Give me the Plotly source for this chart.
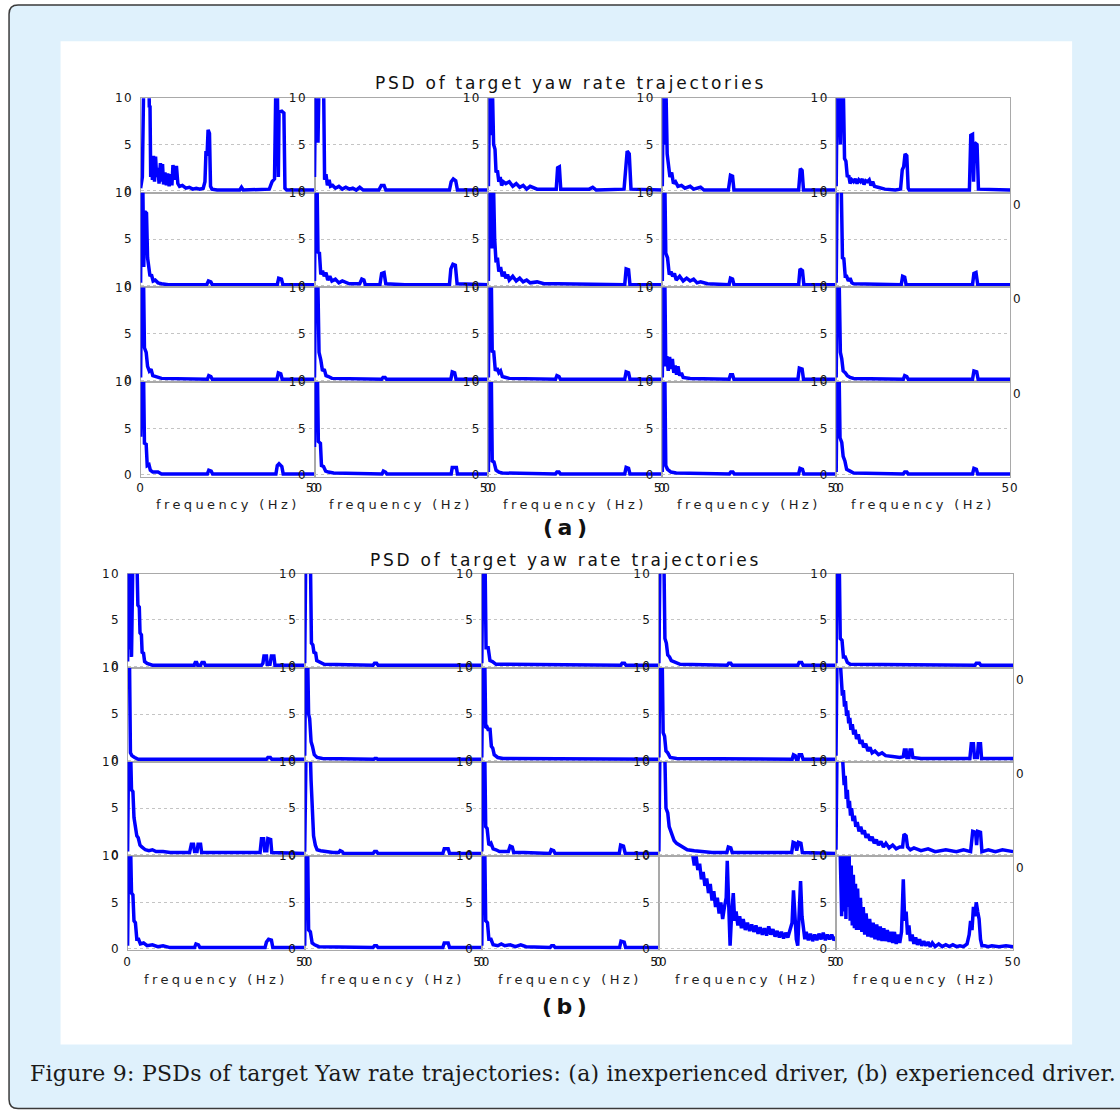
import plotly.graph_objects as go

# ---------------- data: (frequency Hz, PSD) pairs ----------------
# (a) inexperienced driver, rows 1..4, columns 1..5
A11 = [(0,0.3),(0.5,1.5),(0.9,12),(1.4,12),(1.9,12),(2.4,12),(2.5,9),(2.7,9.2),(2.9,1.5),(3.1,3.8),(3.4,1.2),(3.7,3.8),(4.0,1.0),(4.3,3.7),(4.6,1.5),(5.0,2.5),(5.3,0.8),(5.7,3.0),(6.0,1.0),(6.3,2.9),(6.6,0.7),(7.0,2.0),(7.4,0.6),(7.8,1.9),(8.2,0.5),(8.6,1.8),(9.0,0.6),(9.3,2.8),(9.8,1.2),(10.3,2.7),(10.7,0.8),(11.2,0.5),(12,0.6),(13,0.3),(14,0.4),(15,0.2),(16,0.3),(17,0.2),(18,0.3),(18.5,1.0),(18.8,4.3),(19.1,3.8),(19.4,6.6),(19.8,6.2),(20.1,0.5),(20.5,0.2),(22,0.1),(28.5,0.1),(29,0.4),(29.5,0.1),(37,0.2),(37.8,1.0),(38.5,1.3),(38.9,12),(39.3,12),(39.6,1.5),(39.8,8.5),(40.6,8.6),(41.2,8.4),(41.5,0.3),(42,0.1),(50,0.1)]
A12 = [(0,1.5),(0.3,12),(0.8,12),(1.0,5.2),(1.3,12),(2.0,12),(2.6,12),(2.9,1.2),(3.3,1.8),(3.7,0.6),(4.2,1.2),(4.6,0.5),(5.2,0.6),(6,0.3),(7,0.5),(8,0.2),(9,0.4),(10,0.2),(11,0.3),(12,0.1),(13,0.4),(14,0.1),(18.5,0.1),(19.2,0.6),(20,0.6),(20.5,0.1),(38.8,0.1),(39.3,1.0),(39.9,1.3),(40.6,1.1),(41.1,0.1),(50,0.1)]
A13 = [(0,0.5),(0.4,12),(0.8,6),(1.1,12),(1.5,5),(1.9,4.5),(2.2,2),(2.6,2.2),(3.0,1.0),(3.4,1.5),(3.8,0.6),(4.3,1.0),(5,0.8),(6,1.0),(7,0.5),(8,0.8),(9,0.4),(10,0.6),(11,0.2),(12,0.5),(14,0.2),(16,0.2),(19.5,0.2),(19.9,2.5),(20.4,2.6),(20.8,0.2),(29,0.2),(30,0.4),(31,0.1),(39,0.2),(39.5,2.0),(39.9,4.3),(40.5,4.0),(41,0.2),(50,0.1)]
A14 = [(0,0.5),(0.3,12),(0.7,5),(1.0,12),(1.4,4),(1.8,3),(2.2,1.5),(2.7,2.0),(3.2,0.8),(3.8,1.0),(4.5,0.5),(5.5,0.6),(6.5,0.3),(8,0.5),(9,0.2),(11,0.4),(12,0.1),(19,0.1),(19.6,1.7),(20.2,1.6),(20.6,0.1),(39.2,0.1),(39.7,2.4),(40.2,2.2),(40.6,0.1),(50,0.1)]
A15 = [(0,0.5),(0.3,12),(0.8,12),(1.2,5),(1.5,12),(2.0,12),(2.4,3.5),(2.8,3.2),(3.2,1.5),(3.6,1.7),(4.0,0.8),(4.5,1.2),(5.0,1.0),(5.5,1.3),(6.0,0.8),(6.5,1.2),(7,1.0),(7.5,1.3),(8,0.7),(8.5,1.1),(9,1.0),(9.5,1.2),(10,0.6),(10.5,1.0),(11,0.5),(12,0.4),(13,0.3),(14,0.2),(17,0.1),(18.5,0.2),(19,2.3),(19.4,2.6),(19.8,4.0),(20.3,3.8),(20.7,0.3),(21,0.1),(38.3,0.1),(38.7,6.0),(39.2,6.1),(39.5,1.0),(39.8,5.2),(40.5,5.0),(40.9,0.2),(50,0.1)]
A21 = [(0,0.3),(0.2,12),(0.6,12),(0.9,2),(1.2,8),(1.7,7.8),(2.0,3),(2.3,2.0),(2.7,1.0),(3.1,1.2),(3.6,0.5),(4.2,0.6),(5,0.3),(6,0.2),(8,0.1),(19,0.1),(19.5,0.5),(20.2,0.4),(20.6,0.1),(39.3,0.1),(39.7,0.8),(40.5,0.7),(40.9,0.1),(50,0.1)]
A22 = [(0,0.5),(0.3,12),(0.7,12),(1.0,3.5),(1.4,3.6),(1.8,1.2),(2.3,1.6),(2.8,1.0),(3.3,1.4),(3.8,0.6),(4.4,1.0),(5,0.5),(6,0.7),(7,0.3),(8,0.5),(9,0.3),(10,0.2),(13,0.2),(13.6,0.7),(14.2,0.6),(14.6,0.1),(18.8,0.1),(19.3,1.3),(20.0,1.4),(20.5,0.2),(26,0.1),(38.8,0.1),(39.2,1.8),(39.8,2.3),(40.5,2.2),(41.0,0.2),(50,0.1)]
A23 = [(0,0.5),(0.3,12),(0.8,12),(1.1,4),(1.4,12),(1.8,5),(2.2,2.5),(2.6,3.0),(3.0,1.5),(3.5,2.0),(4.0,1.0),(4.5,1.5),(5,0.8),(5.5,1.2),(6,0.6),(7,1.0),(8,0.5),(9,0.8),(10,0.4),(11,0.6),(12,0.3),(14,0.4),(16,0.2),(20,0.2),(39.2,0.1),(39.6,1.8),(40.3,1.7),(40.7,0.1),(50,0.1)]
A24 = [(0,0.5),(0.3,12),(0.7,12),(1.0,3.5),(1.5,3.0),(2.0,1.2),(2.5,1.5),(3,1.0),(3.5,1.3),(4,0.6),(5,1.0),(6,0.5),(7,0.8),(8,0.5),(9,0.7),(10,0.3),(11,0.4),(13,0.2),(19.2,0.1),(19.6,0.8),(20.2,0.7),(20.6,0.1),(39.2,0.1),(39.6,1.8),(40.3,1.6),(40.7,0.1),(50,0.1)]
A25 = [(0,0.3),(0.3,12),(0.8,12),(1.4,12),(1.8,3),(2.2,2.9),(2.6,1.0),(3.0,1.0),(3.5,0.5),(4,0.8),(4.5,0.3),(5,0.2),(18.7,0.1),(19.1,1.0),(19.7,0.9),(20.1,0.1),(39.2,0.1),(39.6,1.3),(40.2,1.4),(40.7,0.1),(50,0.1)]
A31 = [(0,0.3),(0.3,12),(0.8,12),(1.1,3.5),(1.6,3.0),(2.0,1.5),(2.5,1.0),(3,1.2),(3.5,0.5),(4.5,0.4),(6,0.2),(19.2,0.1),(19.6,0.5),(20.2,0.4),(20.6,0.1),(39.2,0.1),(39.6,0.8),(40.3,0.7),(40.7,0.1),(50,0.1)]
A32 = [(0,0.3),(0.3,12),(0.9,12),(1.3,3),(1.8,2.2),(2.3,1.0),(2.8,1.2),(3.3,0.5),(4,0.4),(5,0.2),(19.3,0.1),(19.7,0.3),(20.3,0.3),(20.7,0.1),(39.2,0.1),(39.6,0.9),(40.3,0.8),(40.7,0.1),(50,0.1)]
A33 = [(0,0.3),(0.3,12),(0.8,12),(1.1,3),(1.5,3.2),(2.0,1.0),(2.5,1.3),(3,0.8),(3.5,1.0),(4,0.4),(5,0.3),(6,0.2),(19.3,0.1),(19.7,0.5),(20.3,0.4),(20.7,0.1),(39.2,0.1),(39.6,0.9),(40.3,0.8),(40.7,0.1),(50,0.1)]
A34 = [(0,0.3),(0.3,12),(0.7,12),(1.0,1.5),(1.3,2.6),(1.7,1.0),(2.1,2.5),(2.5,1.2),(2.9,2.3),(3.3,0.8),(3.7,1.6),(4.1,0.6),(4.5,1.5),(5,0.5),(5.5,0.8),(6,0.3),(8,0.2),(19.2,0.1),(19.6,0.6),(20.2,0.6),(20.6,0.1),(39.0,0.1),(39.4,1.3),(40.2,1.2),(40.6,0.1),(50,0.1)]
A35 = [(0,0.3),(0.3,12),(0.8,12),(1.2,3.0),(1.6,2.3),(2.0,1.0),(2.6,0.8),(3.2,0.5),(4,0.3),(5,0.2),(19.3,0.1),(19.7,0.5),(20.3,0.4),(20.7,0.1),(39.2,0.1),(39.6,1.0),(40.4,0.9),(40.8,0.1),(50,0.1)]
A41 = [(0,4.1),(0.3,12),(0.8,12),(1.1,3.4),(1.6,3.3),(1.9,1.0),(2.4,1.1),(2.8,0.5),(3.5,0.3),(5,0.3),(6,0.1),(19.2,0.1),(19.6,0.5),(20.3,0.4),(20.7,0.1),(38.9,0.1),(39.3,1.0),(39.8,1.2),(40.6,0.9),(41.0,0.1),(50,0.1)]
A42 = [(0,3.0),(0.3,12),(0.8,12),(1.1,3.6),(1.7,3.4),(2.0,1.0),(2.6,0.9),(3.2,0.4),(4,0.3),(5.5,0.2),(19.4,0.1),(19.8,0.4),(20.4,0.3),(20.8,0.1),(39.3,0.1),(39.6,0.8),(40.8,0.8),(41.1,0.1),(50,0.1)]
A43 = [(0,0.3),(0.3,12),(0.8,12),(1.1,1.5),(1.6,1.4),(2.2,0.5),(3,0.3),(4,0.2),(19.3,0.1),(19.7,0.3),(20.3,0.3),(20.7,0.1),(39.2,0.1),(39.6,0.8),(40.3,0.7),(40.7,0.1),(50,0.1)]
A44 = [(0,0.3),(0.3,12),(0.7,12),(1.0,1.0),(1.5,0.6),(2.5,0.3),(4,0.2),(19.3,0.1),(19.7,0.3),(20.3,0.3),(20.7,0.1),(39.2,0.1),(39.6,0.7),(40.3,0.6),(40.7,0.1),(50,0.1)]
A45 = [(0,0.3),(0.3,12),(0.8,12),(1.1,4.0),(1.6,3.5),(2.0,2.0),(2.5,1.5),(3.0,0.6),(4,0.4),(5,0.2),(19.3,0.1),(19.7,0.3),(20.3,0.3),(20.7,0.1),(39.2,0.1),(39.6,0.7),(40.3,0.6),(40.7,0.1),(50,0.1)]

# (b) experienced driver
B11 = [(0,0.5),(0.2,12),(0.5,1.8),(0.8,12),(1.1,1.0),(1.5,12),(2.0,12),(2.6,12),(2.9,6.6),(3.3,6.4),(3.5,3.6),(3.9,3.4),(4.1,1.5),(4.5,1.4),(4.8,0.5),(5.5,0.3),(7,0.1),(18.8,0.1),(19.1,0.4),(19.5,0.4),(19.8,0.1),(20.6,0.1),(21.0,0.4),(21.6,0.4),(21.9,0.1),(37.8,0.1),(38.2,0.3),(38.5,1.1),(39.2,1.1),(39.4,0.2),(40.2,0.2),(40.6,1.1),(41.3,1.1),(41.6,0.1),(50,0.1)]
B12 = [(0,0.3),(0.3,12),(1.0,12),(1.6,12),(1.9,2.5),(2.3,2.3),(2.6,1.5),(3.1,1.4),(3.4,0.6),(4.5,0.4),(5.5,0.2),(19.3,0.1),(19.7,0.3),(20.3,0.3),(20.7,0.1),(50,0.1)]
B13 = [(0,0.3),(0.3,12),(0.9,12),(1.2,2.0),(1.8,2.0),(2.3,0.6),(3,0.5),(4,0.2),(5,0.2),(39.2,0.1),(39.6,0.3),(40.3,0.3),(40.7,0.1),(50,0.1)]
B14 = [(0,0.3),(0.3,12),(0.9,12),(1.4,12),(1.7,3.0),(2.1,2.5),(2.5,1.2),(3,1.0),(3.5,0.6),(4.5,0.4),(6,0.2),(19.3,0.1),(19.7,0.3),(20.3,0.3),(20.7,0.1),(39.2,0.1),(39.6,0.4),(40.3,0.4),(40.7,0.1),(50,0.1)]
B15 = [(0,0.3),(0.3,12),(0.9,12),(1.2,3.0),(1.7,2.8),(2.1,1.0),(2.6,1.0),(3.2,0.4),(4,0.2),(39.2,0.1),(39.6,0.3),(40.5,0.3),(40.9,0.1),(50,0.1)]
B21 = [(0,12),(0.5,12),(0.8,0.8),(1.2,0.5),(2,0.3),(3,0.1),(39.2,0.1),(39.6,0.3),(40.3,0.3),(40.7,0.1),(50,0.1)]
B22 = [(0,0.5),(0.3,12),(0.8,12),(1.1,5.0),(1.4,4.5),(1.8,2.0),(2.2,1.5),(2.7,0.6),(3.5,0.3),(5,0.2),(19.5,0.1),(19.8,0.2),(20.3,0.2),(20.6,0.1),(50,0.1)]
B23 = [(0,0.3),(0.3,12),(0.8,12),(1.1,3.5),(1.5,3.6),(1.9,3.2),(2.3,3.5),(2.7,1.5),(3.1,1.3),(3.5,0.6),(4.5,0.3),(6,0.2),(50,0.1)]
B24 = [(0,0.3),(0.3,12),(0.9,12),(1.2,3.0),(1.6,2.6),(2.0,1.0),(2.5,0.8),(3.2,0.3),(5,0.2),(37.6,0.1),(38.0,0.6),(38.5,0.5),(38.8,0.1),(39.3,0.1),(39.6,0.6),(40.3,0.6),(40.7,0.1),(50,0.1)]
B25 = [(0,0.5),(0.3,12),(1.0,12),(1.5,9.5),(1.8,7.0),(2.1,7.6),(2.4,5.8),(2.7,6.4),(3.0,4.8),(3.3,5.4),(3.6,4.0),(3.9,4.6),(4.2,3.3),(4.6,3.9),(5.0,2.8),(5.4,3.3),(5.8,2.3),(6.3,2.8),(6.8,1.8),(7.3,2.2),(7.8,1.4),(8.4,1.8),(9.0,1.0),(9.6,1.4),(10.2,0.8),(11,1.0),(12,0.6),(13,0.8),(14,0.5),(16,0.4),(18,0.3),(19,0.4),(19.3,1.1),(19.8,1.1),(20.0,0.3),(20.6,0.3),(20.9,1.1),(21.4,1.1),(21.7,0.3),(24,0.2),(30,0.2),(37.8,0.2),(38.2,1.8),(38.8,1.8),(39.1,0.3),(39.9,0.3),(40.2,1.8),(40.8,1.8),(41.1,0.2),(50,0.2)]
B31 = [(0,0.3),(0.3,12),(0.8,12),(1.1,7.0),(1.5,6.8),(1.8,4.0),(2.2,3.0),(2.6,2.0),(3.0,1.8),(3.5,1.0),(4.0,0.8),(5,0.5),(6,0.4),(7,0.5),(8,0.3),(10,0.3),(12,0.2),(17.5,0.2),(18.0,1.1),(18.6,1.1),(18.9,0.3),(19.6,0.3),(19.9,1.1),(20.6,1.1),(20.9,0.2),(37.4,0.2),(37.8,1.7),(38.4,1.7),(38.7,0.4),(39.3,0.4),(39.6,1.7),(40.4,1.6),(40.7,0.2),(50,0.1)]
B32 = [(0,0.3),(0.4,12),(1.0,12),(1.5,12),(1.8,8.0),(2.1,5.0),(2.5,2.0),(3.0,1.0),(3.5,0.5),(4.5,0.4),(6,0.3),(8,0.2),(9.6,0.2),(10,0.4),(10.6,0.3),(11,0.1),(19.3,0.1),(19.7,0.3),(20.3,0.3),(20.7,0.1),(39.0,0.1),(39.4,0.6),(40.5,0.6),(40.9,0.1),(50,0.1)]
B33 = [(0,0.3),(0.3,12),(0.8,12),(1.1,3.0),(1.5,2.8),(2.0,1.0),(2.6,1.2),(3.2,0.6),(4,0.5),(5,0.3),(7.5,0.3),(8,0.9),(8.6,0.8),(9,0.2),(12,0.2),(19.2,0.1),(19.6,0.5),(20.3,0.4),(20.7,0.1),(38.8,0.1),(39.2,1.0),(40.0,0.9),(40.5,0.1),(50,0.1)]
B34 = [(0,0.3),(0.3,12),(1.0,12),(1.6,12),(2.0,5.0),(2.5,4.5),(2.9,3.0),(3.3,2.5),(3.8,2.0),(4.3,1.5),(5,1.2),(6,1.0),(7,0.8),(8,0.5),(10,0.4),(12,0.3),(15,0.2),(19.2,0.2),(19.6,0.8),(20.3,0.7),(20.7,0.2),(37.5,0.2),(37.9,1.3),(38.5,1.2),(38.9,0.4),(39.4,1.3),(40.1,1.2),(40.5,0.2),(50,0.1)]
B35 = [(0,0.5),(0.3,12),(1.0,12),(1.6,12),(2.0,9.5),(2.3,7.5),(2.6,8.5),(2.9,6.0),(3.2,7.0),(3.5,5.0),(3.8,5.8),(4.1,4.2),(4.4,5.0),(4.8,3.6),(5.2,4.2),(5.6,3.0),(6.0,3.5),(6.5,2.5),(7.0,3.0),(7.5,2.2),(8.0,2.6),(8.5,1.8),(9.0,2.2),(9.6,1.5),(10.2,1.9),(10.8,1.2),(11.4,1.6),(12,1.0),(12.7,1.4),(13.4,0.8),(14.1,1.2),(15,0.7),(16,1.0),(17,0.6),(18,0.8),(18.8,0.8),(19.2,2.2),(19.8,2.0),(20.2,0.8),(21,0.5),(22,0.7),(24,0.4),(26,0.6),(28,0.3),(31,0.5),(34,0.3),(36,0.5),(38,0.3),(38.6,2.5),(39.4,2.4),(39.7,1.0),(40.0,2.5),(40.8,2.4),(41.2,0.3),(43,0.5),(45,0.3),(47,0.5),(50,0.3)]
B41 = [(0,0.3),(0.3,12),(0.8,12),(1.1,6.0),(1.5,5.8),(1.8,3.0),(2.2,2.8),(2.6,1.0),(3.1,1.0),(3.6,0.5),(4.5,0.6),(5.5,0.3),(7,0.4),(8.5,0.2),(10,0.3),(12,0.1),(18.9,0.1),(19.3,0.5),(20.0,0.4),(20.4,0.1),(38.8,0.1),(39.2,0.7),(39.8,1.0),(40.6,0.9),(41,0.1),(50,0.1)]
B42 = [(0,0.3),(0.3,12),(0.8,12),(1.1,2.0),(1.6,1.8),(2.1,0.6),(2.8,0.4),(4,0.2),(19.3,0.1),(19.7,0.3),(20.3,0.3),(20.7,0.1),(39.0,0.1),(39.4,0.6),(40.5,0.6),(40.9,0.1),(50,0.1)]
B43 = [(0,0.3),(0.3,12),(0.8,12),(1.1,3.0),(1.6,2.8),(2.0,1.0),(2.6,1.0),(3.2,0.4),(4.5,0.3),(5.5,0.5),(6.5,0.3),(8,0.4),(9.5,0.2),(11,0.4),(12.5,0.2),(19.3,0.1),(19.7,0.3),(20.3,0.3),(20.7,0.1),(38.9,0.1),(39.3,0.8),(40.2,0.7),(40.6,0.1),(50,0.1)]
B44 = [(0,30),(5,22),(8,14),(9.4,10.5),(10.0,9.0),(10.5,10.0),(11.0,8.5),(11.5,9.2),(12.0,7.5),(12.5,8.3),(13.0,6.8),(13.5,7.6),(14.0,6.0),(14.5,7.0),(15.0,5.2),(15.5,6.2),(16.0,4.5),(16.5,5.5),(17.0,3.8),(17.5,5.0),(18.0,3.2),(18.5,4.5),(19.0,5.5),(19.3,9.5),(19.7,4.0),(20.1,0.3),(20.5,3.5),(21.0,6.0),(21.4,3.0),(21.8,4.0),(22.3,2.5),(22.8,3.5),(23.3,2.2),(23.8,3.2),(24.4,2.0),(25.0,2.8),(25.6,1.9),(26.2,2.6),(26.8,1.8),(27.4,2.5),(28.0,1.6),(28.6,2.3),(29.2,1.5),(29.8,2.2),(30.4,1.4),(31.0,2.4),(31.6,1.5),(32.2,2.1),(32.8,1.3),(33.4,1.9),(34.0,1.2),(34.6,1.8),(35.2,1.1),(35.8,1.7),(36.4,1.2),(37.0,2.2),(37.6,2.8),(38.0,6.3),(38.4,2.5),(38.8,1.0),(39.2,0.3),(39.6,3.0),(40.0,7.3),(40.4,3.5),(40.8,2.0),(41.2,1.0),(41.6,1.8),(42.2,0.9),(42.8,1.6),(43.4,0.8),(44.0,1.5),(44.6,0.9),(45.2,1.6),(45.8,1.0),(46.4,1.7),(47.0,0.9),(47.6,1.5),(48.2,1.0),(48.8,1.5),(49.4,0.9),(50,1.2)]
B45 = [(0,30),(1.0,14),(1.3,12),(1.6,3.5),(1.9,12),(2.2,4.0),(2.5,12),(2.8,3.2),(3.1,11),(3.4,4.5),(3.7,10.5),(4.0,3.0),(4.3,9.0),(4.6,2.5),(4.9,8.0),(5.2,2.2),(5.5,7.0),(5.8,2.0),(6.1,6.5),(6.5,2.0),(6.9,5.5),(7.3,1.8),(7.7,4.5),(8.1,1.5),(8.5,3.8),(9.0,1.3),(9.5,3.2),(10.0,1.2),(10.5,2.8),(11.0,1.0),(11.5,2.6),(12.0,0.9),(12.5,2.4),(13.0,0.8),(13.5,2.2),(14.0,0.8),(14.5,2.0),(15.0,0.7),(15.5,1.8),(16.0,0.6),(16.5,1.8),(17.0,0.5),(17.5,1.5),(18.0,0.6),(18.5,1.8),(19.0,7.5),(19.4,3.0),(19.8,4.0),(20.2,1.5),(20.6,2.5),(21.0,0.8),(21.5,1.5),(22.0,0.5),(22.5,1.2),(23.0,0.4),(23.6,1.0),(24.2,0.3),(24.8,0.8),(25.4,0.3),(26.0,0.7),(26.6,0.2),(27.2,0.6),(28,0.2),(29,0.5),(30,0.2),(31,0.4),(32,0.2),(33,0.4),(34,0.2),(35,0.3),(36,0.2),(37,0.5),(37.6,1.5),(38.0,3.0),(38.4,2.0),(38.8,4.5),(39.2,3.5),(39.6,5.0),(40.0,4.0),(40.4,3.2),(40.8,1.0),(41.2,0.3),(42,0.3),(43,0.2),(44,0.3),(46,0.2),(48,0.3),(50,0.2)]

A_GRID = [[A11, A12, A13, A14, A15], [A21, A22, A23, A24, A25],
          [A31, A32, A33, A34, A35], [A41, A42, A43, A44, A45]]
B_GRID = [[B11, B12, B13, B14, B15], [B21, B22, B23, B24, B25],
          [B31, B32, B33, B34, B35], [B41, B42, B43, B44, B45]]

X_TICKS = [0, 50]
X_TICK_TEXT = ["0", "50"]
Y_TICKS = [0, 5, 10]
Y_TICK_TEXT = ["0", "5", "10"]
TITLE = "PSD of target yaw rate trajectories"
XLABEL = "frequency (Hz)"
PANEL_LABELS = ["(a)", "(b)"]
CAPTION = "Figure 9: PSDs of target Yaw rate trajectories: (a) inexperienced driver, (b) experienced driver."

# ---------------- layout helpers ----------------
# the figure is a bit larger than the window; the photograph maps page
# pixels p to picture pixels S*(p + O). Positions below are picture pixels.
FW, FH = 1134, 1124
S, OX, OY = 0.988, 3.5, 7.0


def px(x):
    return (x / S - OX) / FW


def py(y):
    return 1 - (y / S - OY) / FH


def spaced(t, ls):
    return f'<span style="letter-spacing:{ls}px">{t}</span>'


TICK_FONT = dict(family="DejaVu Sans", size=12, color="#151515")
FRAME = "#a9a9a9"

grids = [
    dict(grid=A_GRID, left=140, right=1009, top=98, bottom=476,
         title_y=83, xlabel_y=504, label_y=527),
    dict(grid=B_GRID, left=127, right=1012, top=573, bottom=949,
         title_y=559, xlabel_y=978, label_y=1005),
]

fig = go.Figure()
layout = {}
annotations = []
n = 0
for gi, g in enumerate(grids):
    cw = (g["right"] - g["left"]) / 5
    rh = (g["bottom"] - g["top"]) / 4
    for r in range(4):
        for c in range(5):
            n += 1
            sfx = "" if n == 1 else str(n)
            pts = g["grid"][r][c]
            fig.add_trace(go.Scatter(
                x=[p[0] for p in pts], y=[p[1] for p in pts], mode="lines",
                line=dict(color="#0000ff", width=3.5),
                xaxis="x" + sfx, yaxis="y" + sfx,
                showlegend=False, hoverinfo="skip"))
            x0 = g["left"] + c * cw
            x1 = x0 + cw
            y0 = g["top"] + r * rh
            y1 = y0 + rh
            layout["xaxis" + sfx] = dict(
                domain=[px(x0), px(x1)], anchor="y" + sfx, range=[0, 50],
                showgrid=False, zeroline=False, showline=True, mirror=True,
                linecolor=FRAME, linewidth=1, ticks="",
                tickmode="array", tickvals=X_TICKS,
                ticktext=[spaced(t, 1) for t in X_TICK_TEXT],
                showticklabels=(r == 3), tickfont=TICK_FONT,
                layer="below traces", fixedrange=True)
            layout["yaxis" + sfx] = dict(
                domain=[py(y1), py(y0)], anchor="x" + sfx, range=[-0.2, 10.0],
                showgrid=True, gridcolor="#c4c4c4", griddash="dot", gridwidth=1,
                zeroline=False, showline=True, mirror=True,
                linecolor=FRAME, linewidth=1, ticks="",
                tickmode="array", tickvals=Y_TICKS,
                ticktext=[spaced(t, 1.5) for t in Y_TICK_TEXT],
                tickfont=TICK_FONT, ticklabelstandoff=4,
                layer="below traces", fixedrange=True)
            if r == 3:
                annotations.append(dict(
                    x=px((x0 + x1) / 2), y=py(g["xlabel_y"]), xref="paper", yref="paper",
                    text=spaced(XLABEL, 3.4), showarrow=False,
                    font=dict(family="DejaVu Sans", size=13, color="#1e1e1e"),
                    xanchor="center", yanchor="middle"))
            if c == 4 and r < 3:
                # peeking "0" of the hidden x tick labels at the right edge
                annotations.append(dict(
                    x=px(x1 + 7), y=py(y1 + 12), xref="paper", yref="paper",
                    text="0", showarrow=False, font=TICK_FONT,
                    xanchor="center", yanchor="middle"))
    annotations.append(dict(
        x=px((g["left"] + g["right"]) / 2 - 5), y=py(g["title_y"]), xref="paper", yref="paper",
        text=spaced(TITLE, 2.75), showarrow=False,
        font=dict(family="DejaVu Sans", size=17, color="#111111"),
        xanchor="center", yanchor="middle"))
    annotations.append(dict(
        x=px(566), y=py(g["label_y"]), xref="paper", yref="paper",
        text="<b>" + spaced(PANEL_LABELS[gi], 4.5) + "</b>", showarrow=False,
        font=dict(family="DejaVu Sans", size=22, color="#111111"),
        xanchor="center", yanchor="middle"))

annotations.append(dict(
    x=px(27), y=py(1072), xref="paper", yref="paper", text=spaced(CAPTION, 0.25),
    showarrow=False, font=dict(family="DejaVu Serif", size=22, color="#1a1a1a"),
    xanchor="left", yanchor="middle"))


def rounded_rect(x0, y0, x1, y1, rr):
    pts = [
        ("M", (x0 + rr, y0)), ("L", (x1 - rr, y0)), ("Q", (x1, y0, x1, y0 + rr)),
        ("L", (x1, y1 - rr)), ("Q", (x1, y1, x1 - rr, y1)), ("L", (x0 + rr, y1)),
        ("Q", (x0, y1, x0, y1 - rr)), ("L", (x0, y0 + rr)), ("Q", (x0, y0, x0 + rr, y0)),
    ]
    s = ""
    for cmd, v in pts:
        coords = []
        for i in range(0, len(v), 2):
            coords.append(f"{px(v[i]):.5f},{py(v[i + 1]):.5f}")
        s += cmd + " ".join(coords) + " "
    return s + "Z"


shapes = [
    dict(type="path", xref="paper", yref="paper", layer="below",
         path=rounded_rect(8.5, 5, 1150, 1107, 9),
         fillcolor="#dff1fc", line=dict(color="#3a3a3a", width=1.5)),
    dict(type="rect", xref="paper", yref="paper", layer="below",
         x0=px(60), x1=px(1071), y0=py(1043), y1=py(41),
         fillcolor="#ffffff", line=dict(width=0)),
]

fig.update_layout(
    width=FW, height=FH, margin=dict(l=0, r=0, t=0, b=0),
    paper_bgcolor="#ffffff", plot_bgcolor="rgba(0,0,0,0)",
    showlegend=False, annotations=annotations, shapes=shapes, **layout)

fig.write_html(
    "out.html",
    config={"displayModeBar": False, "staticPlot": True},
    post_script="document.body.style.margin='0';document.body.style.overflow='hidden';")
